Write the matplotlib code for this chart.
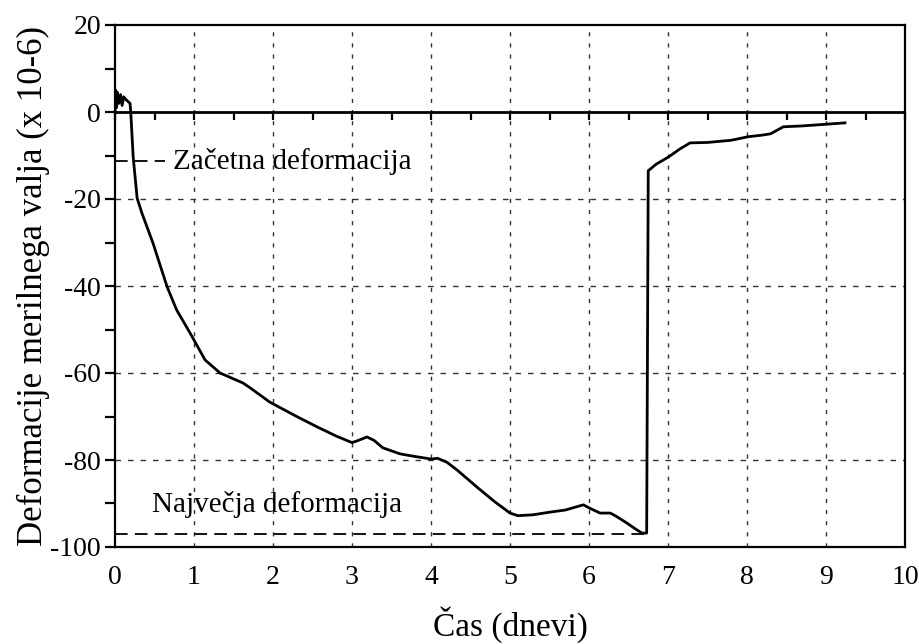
import matplotlib
matplotlib.use("Agg")
import matplotlib.pyplot as plt
from matplotlib.ticker import MultipleLocator

plt.rcParams['font.family'] = ['Liberation Serif', 'DejaVu Serif']
plt.rcParams['axes.unicode_minus'] = False

time_days = [0, 0.01, 0.02, 0.03, 0.05, 0.07, 0.09, 0.11, 0.13, 0.16, 0.19, 0.2,
             0.23, 0.28, 0.34, 0.48, 0.66, 0.78, 0.95, 1.14, 1.33, 1.62, 1.71, 1.96,
             2.3, 2.56, 2.8, 3.0, 3.08, 3.19, 3.28, 3.39, 3.61, 3.8, 4.01, 4.08,
             4.2, 4.33, 4.58, 4.8, 5.0, 5.1, 5.29, 5.5, 5.7, 5.93, 6.0, 6.14, 6.27,
             6.35, 6.48, 6.6, 6.67, 6.73, 6.75, 6.85, 7.01, 7.15, 7.28, 7.5, 7.8,
             8.01, 8.2, 8.3, 8.46, 8.7, 9.01, 9.24]
strain = [0, 5, 1, 4.5, 2, 4, 1.5, 3.5, 3, 2.5, 2, -0.2,
          -10.3, -19.8, -23.2, -30.1, -40.2, -45.5, -50.8, -57, -60, -62.3, -63.4, -66.7,
          -70, -72.4, -74.5, -76, -75.5, -74.7, -75.5, -77.2, -78.6, -79.2, -79.8, -79.6,
          -80.5, -82.3, -86.2, -89.5, -92.2, -92.8, -92.6, -92, -91.5, -90.3, -91, -92.2, -92.2,
          -93, -94.5, -96, -96.8, -96.8, -13.5, -12, -10.3, -8.5, -7.1, -7, -6.5,
          -5.7, -5.3, -5, -3.4, -3.2, -2.8, -2.5]

initial_level = -11.3
initial_end = 0.63
max_level = -97
max_end = 6.7

x_ticks = list(range(0, 11))
y_ticks = list(range(-100, 21, 20))

fig = plt.figure(figsize=(9.19, 6.44), dpi=100)
ax = fig.add_axes([115/919, 1-547/644, (905-115)/919, (547-25)/644])

ax.set_xlim(0, 10)
ax.set_ylim(-100, 20)

# grid
for xv in x_ticks[1:-1]:
    ax.axvline(xv, color='#333333', lw=1.0, ls=(0, (3, 5)), zorder=1)
for yv in [-20, -40, -60, -80]:
    ax.axhline(yv, color='#333333', lw=1.0, ls=(0, (4, 5)), zorder=1)

# zero line
ax.axhline(0, color='black', lw=2.0, zorder=2)

ax.plot(time_days, strain, color='black', lw=2.0, zorder=3)

# annotation lines
ax.plot([0, initial_end], [initial_level, initial_level], color='black', lw=1.3,
        ls=(0, (7, 4)), zorder=2)
ax.text(0.73, initial_level, 'Začetna deformacija', fontsize=21, va='center', ha='left')
ax.plot([0, max_end], [max_level, max_level], color='black', lw=1.3,
        ls=(0, (7, 4)), zorder=2)
ax.text(0.47, -90.3, 'Največja deformacija', fontsize=21, va='center', ha='left')

for s in ax.spines.values():
    s.set_linewidth(1.6)

ax.set_xticks(x_ticks)
ax.set_yticks(y_ticks)
ax.yaxis.set_minor_locator(MultipleLocator(10))
ax.tick_params(axis='x', length=0, labelsize=20, pad=13)
ax.tick_params(axis='y', which='major', direction='out', length=7, width=1.6, labelsize=20, pad=3)
ax.tick_params(axis='y', which='minor', direction='out', length=7, width=1.6)

sec = ax.secondary_xaxis(100/120)
sec.set_xticks(x_ticks)
sec.xaxis.set_minor_locator(MultipleLocator(0.5))
sec.xaxis.set_ticks_position('bottom')
sec.tick_params(which='major', direction='out', length=6, width=1.6)
sec.tick_params(which='minor', direction='out', length=6, width=1.6)
sec.spines['bottom'].set_visible(False)
sec.set_xticklabels([])

ax.set_xlabel('Čas (dnevi)', fontsize=24, labelpad=12)
ax.set_ylabel('Deformacije merilnega valja (x 10-6)', fontsize=25, labelpad=0)

fig.savefig('out.png', dpi=100)
